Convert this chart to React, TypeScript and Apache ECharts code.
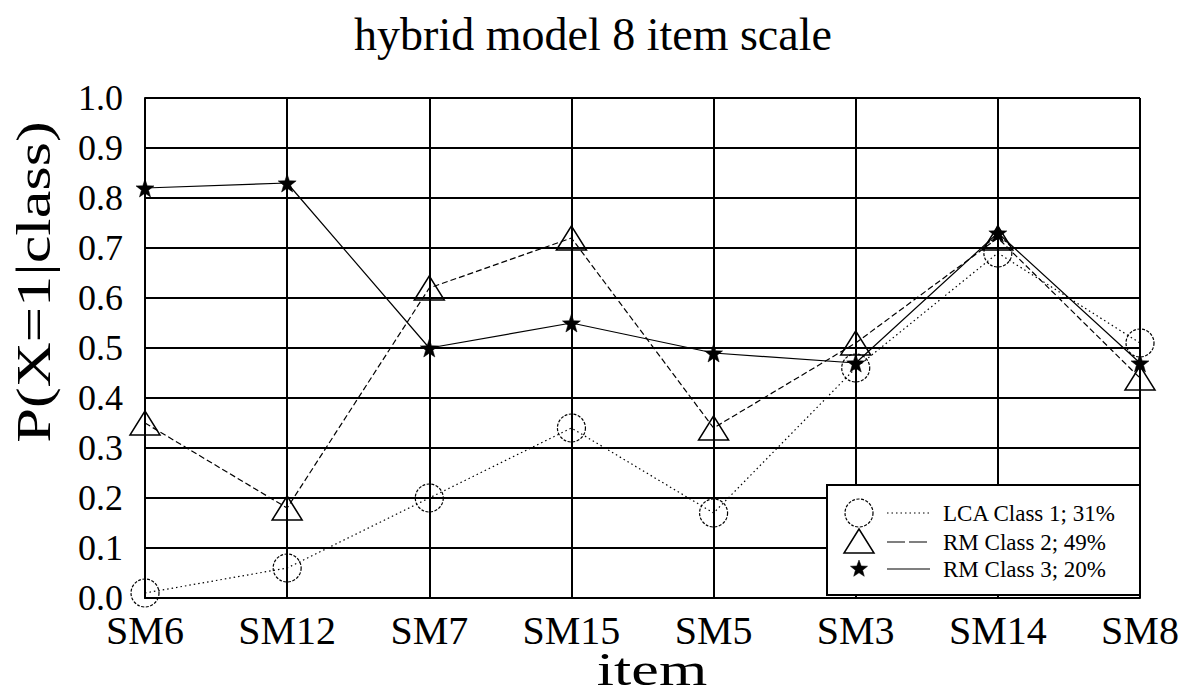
import React, { useEffect, useRef } from "react";
import * as echarts from "echarts";

const categories = ["SM6", "SM12", "SM7", "SM15", "SM5", "SM3", "SM14", "SM8"];
const lcaClass1 = [0.01, 0.06, 0.2, 0.34, 0.17, 0.46, 0.69, 0.51];
const rmClass2 = [0.35, 0.18, 0.62, 0.72, 0.34, 0.51, 0.72, 0.44];
const rmClass3 = [0.82, 0.83, 0.5, 0.55, 0.49, 0.47, 0.73, 0.47];
const legendLabels = ["LCA Class 1; 31%", "RM Class 2; 49%", "RM Class 3; 20%"];

const SERIF = "'Liberation Serif', 'DejaVu Serif', serif";
const STAR = "path://M0,-10 L2.35,-3.24 L9.51,-3.09 L3.8,1.24 L5.88,8.09 L0,4.2 L-5.88,8.09 L-3.8,1.24 L-9.51,-3.09 L-2.35,-3.24 Z";

function starPoints(cx: number, cy: number, r: number, ri: number) {
  const pts: number[][] = [];
  for (let i = 0; i < 10; i++) {
    const a = -Math.PI / 2 + (i * Math.PI) / 5;
    const rr = i % 2 === 0 ? r : ri;
    pts.push([cx + rr * Math.cos(a), cy + rr * Math.sin(a)]);
  }
  return pts;
}

export default function App() {
  const ref = useRef<HTMLDivElement>(null);
  useEffect(() => {
    if (!ref.current) return;
    const chart = echarts.init(ref.current, null, { renderer: "svg" });
    const lx = 827, ly = 485, lw = 313, lh = 110;
    const rows = [513, 542, 569];
    const Z = 200;
    chart.setOption({
      animation: false,
      backgroundColor: "#fff",
      title: {
        text: "hybrid model 8 item scale",
        left: "center",
        top: 6,
        textStyle: { fontFamily: SERIF, fontSize: 46, fontWeight: "normal", color: "#000" },
      },
      grid: { left: 145, right: 46, top: 98, bottom: 97 },
      xAxis: {
        type: "category",
        data: categories,
        boundaryGap: false,
        axisLine: { show: true, lineStyle: { color: "#000", width: 2 } },
        axisTick: { show: false },
        axisLabel: { fontFamily: SERIF, fontSize: 40, color: "#000", margin: 12, interval: 0 },
        splitLine: { show: true, lineStyle: { color: "#000", width: 2 } },
      },
      yAxis: {
        type: "value",
        min: 0,
        max: 1,
        interval: 0.1,
        axisLine: { show: true, lineStyle: { color: "#000", width: 2 } },
        axisTick: { show: false },
        axisLabel: {
          fontFamily: SERIF,
          fontSize: 36,
          color: "#000",
          margin: 22,
          formatter: (v: number) => v.toFixed(1),
        },
        splitLine: { show: true, lineStyle: { color: "#000", width: 2 } },
      },
      series: [
        {
          name: legendLabels[0],
          type: "line",
          data: lcaClass1,
          symbol: "circle",
          symbolSize: 28,
          clip: false,
          lineStyle: { color: "#000", width: 1.2, type: [1.5, 3] },
          itemStyle: { color: "rgba(0,0,0,0)", borderColor: "#000", borderWidth: 1.2, borderType: [3, 1.5] },
        },
        {
          name: legendLabels[1],
          type: "line",
          data: rmClass2,
          symbol: "triangle",
          symbolSize: [30, 24],
          clip: false,
          lineStyle: { color: "#000", width: 1.2, type: [6, 3] },
          itemStyle: { color: "rgba(0,0,0,0)", borderColor: "#000", borderWidth: 1.5 },
        },
        {
          name: legendLabels[2],
          type: "line",
          data: rmClass3,
          symbol: STAR,
          symbolSize: 18,
          clip: false,
          lineStyle: { color: "#000", width: 1.2 },
          itemStyle: { color: "#000", borderColor: "#000", borderWidth: 0.5 },
        },
      ],
      graphic: [
        {
          type: "text",
          x: 34,
          y: 282,
          rotation: Math.PI / 2,
          scaleX: 1.3,
          style: { text: "P(X=1|class)", x: 0, y: 0, align: "center", verticalAlign: "middle", font: `48px ${SERIF}`, fill: "#000" },
        },
        {
          type: "text",
          x: 652,
          y: 669,
          scaleX: 1.35,
          style: { text: "item", x: 0, y: 0, align: "center", verticalAlign: "middle", font: `46px ${SERIF}`, fill: "#000" },
        },
        { type: "rect", z: Z, shape: { x: lx, y: ly, width: lw, height: lh }, style: { fill: "#fff", stroke: "#000", lineWidth: 2 } },
        { type: "circle", z: Z + 1, shape: { cx: 859, cy: rows[0], r: 14 }, style: { fill: "none", stroke: "#000", lineWidth: 1.2, lineDash: [3, 1.5] } },
        { type: "polygon", z: Z + 1, shape: { points: [[859, rows[1] - 13], [874, rows[1] + 11], [844, rows[1] + 11]] }, style: { fill: "none", stroke: "#000", lineWidth: 1.5 } },
        { type: "polygon", z: Z + 1, shape: { points: starPoints(859, rows[2], 9, 3.8) }, style: { fill: "#000", stroke: "#000", lineWidth: 0.5 } },
        { type: "line", z: Z + 1, shape: { x1: 887, y1: rows[0], x2: 930, y2: rows[0] }, style: { stroke: "#000", lineWidth: 1.2, lineDash: [1.5, 3] } },
        { type: "line", z: Z + 1, shape: { x1: 887, y1: rows[1], x2: 930, y2: rows[1] }, style: { stroke: "#000", lineWidth: 1.2, lineDash: [18, 4] } },
        { type: "line", z: Z + 1, shape: { x1: 887, y1: rows[2], x2: 930, y2: rows[2] }, style: { stroke: "#000", lineWidth: 1.2 } },
        ...legendLabels.map((t, i) => ({
          type: "text",
          z: Z + 1,
          x: 943,
          y: rows[i],
          style: { text: t, x: 0, y: 0, align: "left", verticalAlign: "middle", font: `23px ${SERIF}`, fill: "#000" },
        })),
      ],
    });
    return () => chart.dispose();
  }, []);
  return (
    <div
      ref={ref}
      style={{ position: "fixed", left: 0, top: 0, width: 1186, height: 695, background: "#fff" }}
    />
  );
}
